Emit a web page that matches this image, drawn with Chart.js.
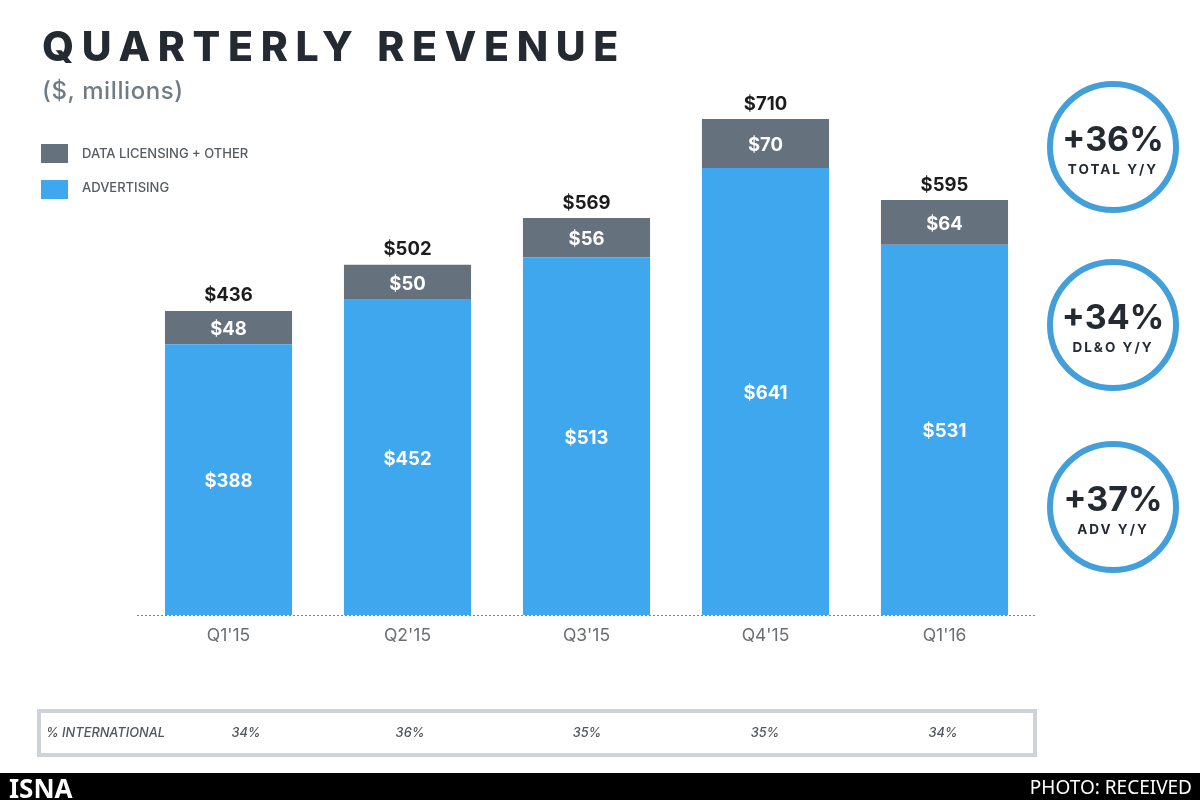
<!DOCTYPE html>
<html>
<head>
<meta charset="utf-8">
<title>Quarterly Revenue</title>
<script src="https://cdn.jsdelivr.net/npm/chart.js@4/dist/chart.umd.min.js"></script>
<style>
    html, body { margin: 0; padding: 0; background: #fff; }
    #page { position: relative; width: 1200px; height: 800px; overflow: hidden; font-family: Inter, sans-serif; }
    #page canvas { position: absolute; left: 0; top: 0; }
    .abs { position: absolute; white-space: nowrap; }
    #title { left: 42px; top: 21px; font-size: 41px; line-height: 50px; font-weight: 800; letter-spacing: 7.7px; color: #232a31; }
    #subtitle { left: 42px; top: 76px; font-size: 24px; line-height: 30px; font-weight: 500; letter-spacing: 0.6px; color: #6f7c85; }
    .swatch { position: absolute; left: 41px; width: 27px; height: 19px; }
    .legend-text { left: 82px; font-size: 13px; line-height: 14px; font-weight: 500; color: #555b60; }
    .badge { position: absolute; left: 1047px; width: 120px; height: 120px; border: 6px solid #429fd9; border-radius: 50%; text-align: center; color: #232a31; }
    .badge b { display: block; margin-top: 34px; font-size: 34px; line-height: 36px; font-weight: 700; }
    .badge span { display: block; margin-top: 4px; font-size: 13.5px; line-height: 16px; font-weight: 700; letter-spacing: 2px; }
    #intl-box { left: 37px; top: 709px; width: 992px; height: 40px; border: 4px solid #cdd3d8; }
    .intl { font-size: 12.8px; line-height: 14px; font-style: italic; font-weight: 500; color: #50565b; top: 726px; }
    .intl-val { transform: translateX(-50%); }
    #footer { left: 0; top: 773px; width: 1200px; height: 27px; background: #000; color: #fff; }
    #isna { position: absolute; left: 9px; top: 2px; font: 700 26px/27px "Noto Sans", sans-serif; }
    #photo { position: absolute; right: 8px; top: 1px; font: 400 19px/27px "Noto Sans", sans-serif; }
</style>
</head>
<body>
<div id="page">
    <canvas id="revenueChart" width="1200" height="800"></canvas>
    <div id="title" class="abs">QUARTERLY REVENUE</div>
    <div id="subtitle" class="abs">($, millions)</div>
    <div class="swatch" style="top:144px;background:#65717d"></div>
    <div class="abs legend-text" style="top:146px">DATA LICENSING + OTHER</div>
    <div class="swatch" style="top:180px;background:#3fa7ee"></div>
    <div class="abs legend-text" style="top:180px">ADVERTISING</div>
    <div id="badges"></div>
    <div id="intl-box" class="abs"></div>
    <div class="abs intl" style="left:46px">% INTERNATIONAL</div>
    <div id="intl-values"></div>
    <div id="footer" class="abs">
        <div id="isna">ISNA</div>
        <div id="photo">PHOTO: RECEIVED</div>
    </div>
</div>
<script>
const quarters = ["Q1'15", "Q2'15", "Q3'15", "Q4'15", "Q1'16"];
const advertising = [388, 452, 513, 641, 531];
const dataLicensing = [48, 50, 56, 70, 64];
const totals = [436, 502, 569, 710, 595];
const international = ['34%', '36%', '35%', '35%', '34%'];
const badgeValues = ['+36%', '+34%', '+37%'];
const badgeLabels = ['TOTAL Y/Y', 'DL&O Y/Y', 'ADV Y/Y'];

const BLUE = '#3fa7ee';
const GREY = '#65717d';

// Badges and the % international row are plain html
const badgeTops = [81, 259, 441];
document.getElementById('badges').innerHTML = badgeValues.map((v, i) =>
    `<div class="badge" style="top:${badgeTops[i]}px"><b>${v}</b><span>${badgeLabels[i].replace('&', '&amp;')}</span></div>`
).join('');

const intlCentres = [246, 410, 587, 765, 943];
document.getElementById('intl-values').innerHTML = international.map((v, i) =>
    `<div class="abs intl intl-val" style="left:${intlCentres[i]}px">${v}</div>`
).join('');

// Writes the $ values on and above the stacked bars, plus the dotted baseline
// (border.dash only affects grid lines, not the axis border)
const barLabels = {
    id: 'barLabels',
    afterDatasetsDraw(chart) {
        const { ctx, chartArea, scales: { x, y } } = chart;
        ctx.save();
        ctx.strokeStyle = '#7d8286';
        ctx.lineWidth = 1;
        ctx.setLineDash([2, 2]);
        ctx.beginPath();
        ctx.moveTo(chartArea.left - 2, chartArea.bottom + 0.5);
        ctx.lineTo(chartArea.right + 2, chartArea.bottom + 0.5);
        ctx.stroke();
        ctx.setLineDash([]);

        ctx.textAlign = 'center';
        ctx.textBaseline = 'middle';
        const nudge = 2; // optical centring of the bold digits
        quarters.forEach((q, i) => {
            const cx = x.getPixelForValue(i);
            ctx.font = '700 18.5px Inter, sans-serif';
            ctx.fillStyle = '#fff';
            ctx.fillText('$' + advertising[i], cx, y.getPixelForValue(advertising[i] / 2) + nudge);
            ctx.fillText('$' + dataLicensing[i], cx, y.getPixelForValue(advertising[i] + dataLicensing[i] / 2) + nudge);
            ctx.fillStyle = '#1c1c1c';
            ctx.fillText('$' + totals[i], cx, y.getPixelForValue(advertising[i] + dataLicensing[i]) - 17 + nudge);
        });
        ctx.restore();
    }
};

new Chart(document.getElementById('revenueChart').getContext('2d'), {
    type: 'bar',
    data: {
        labels: quarters,
        datasets: [
            { label: 'Advertising', data: advertising, backgroundColor: BLUE },
            { label: 'Data Licensing + Other', data: dataLicensing, backgroundColor: GREY }
        ]
    },
    options: {
        responsive: false,
        animation: false,
        devicePixelRatio: 1,
        barPercentage: 0.71,
        categoryPercentage: 1,
        layout: { padding: { left: 139, right: 166, top: 57, bottom: 140 } },
        plugins: { legend: { display: false }, tooltip: { enabled: false } },
        scales: {
            x: {
                stacked: true,
                grid: { display: false },
                border: { display: false },
                ticks: { color: '#6b6f72', font: { family: 'Inter, sans-serif', size: 17.5 }, padding: 2, maxRotation: 0 },
                afterFit: (scale) => { scale.height = 45; }
            },
            y: {
                stacked: true,
                display: false,
                min: 0,
                max: 800
            }
        }
    },
    plugins: [barLabels]
});
</script>
</body>
</html>
